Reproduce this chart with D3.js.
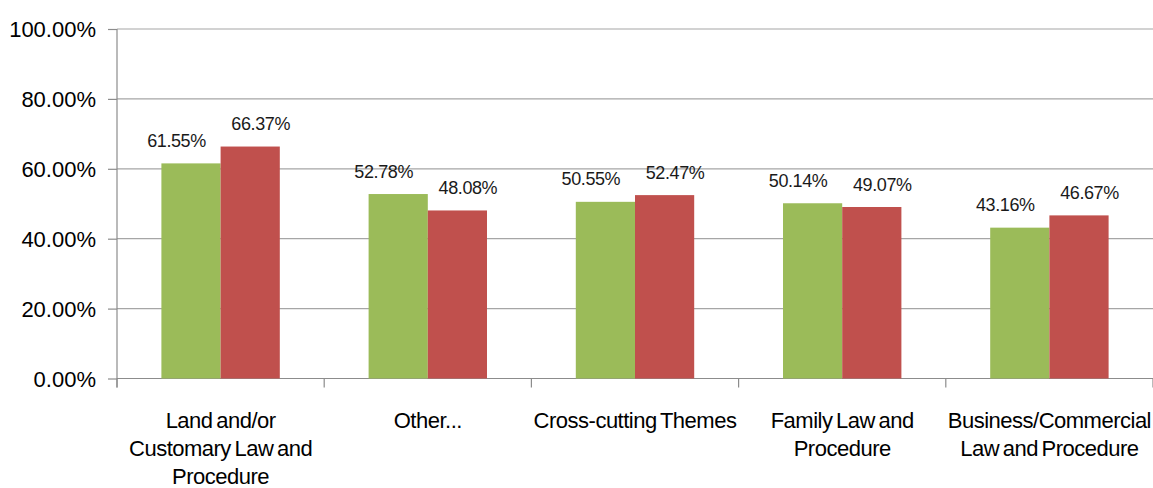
<!DOCTYPE html>
<html>
<head>
<meta charset="utf-8">
<script src="https://cdn.jsdelivr.net/npm/d3@7"></script>
<style>
  html, body { margin: 0; padding: 0; background: #fff; }
  svg { display: block; font-family: "Liberation Sans", Arial, sans-serif; }
</style>
</head>
<body>
<svg id="chart" width="1153" height="488"></svg>
<script>
// Category labels, one entry per line of the wrapped label
const categories = [
  ["Land and/or", "Customary Law and", "Procedure"],
  ["Other..."],
  ["Cross-cutting Themes"],
  ["Family Law and", "Procedure"],
  ["Business/Commercial", "Law and Procedure"]
];
// Two series of percentages per category
const seriesKeys = ["first", "second"];
const firstValues = [61.55, 52.78, 50.55, 50.14, 43.16];
const secondValues = [66.37, 48.08, 52.47, 49.07, 46.67];
const yTicks = [0, 20, 40, 60, 80, 100];

const colors = { first: "#9BBB59", second: "#C0504D" };

const svg = d3.select("#chart");
const plotLeft = 117, plotRight = 1153, plotTop = 29, plotBottom = 378.5;

const catIds = categories.map((c, i) => i);
const x0 = d3.scaleBand().domain(catIds).range([plotLeft, plotRight]).paddingInner(0).paddingOuter(0);
const x1 = d3.scaleBand().domain(seriesKeys).range([0, x0.bandwidth()]).paddingInner(0).paddingOuter(0.75);
const y = d3.scaleLinear().domain([0, 100]).range([plotBottom, plotTop]);

// Horizontal gridlines
svg.append("g")
  .selectAll("line")
  .data(yTicks.filter(t => t > 0))
  .join("line")
  .attr("x1", plotLeft).attr("x2", plotRight)
  .attr("y1", d => y(d)).attr("y2", d => y(d))
  .attr("stroke", "#a6a6a6").attr("stroke-width", 1.2);

// Y axis
const yAxis = svg.append("g")
  .attr("transform", `translate(${plotLeft},0)`)
  .call(d3.axisLeft(y).tickValues(yTicks).tickSize(9).tickPadding(12)
    .tickFormat(d => d.toFixed(2) + "%"));
yAxis.select(".domain").attr("stroke", "#8c8c8c").attr("stroke-width", 1.2)
  .attr("d", `M0,${plotTop}V${plotBottom + 9}`);
yAxis.selectAll(".tick line").attr("stroke", "#8c8c8c").attr("stroke-width", 1.2);
yAxis.selectAll(".tick text")
  .attr("font-size", 22).attr("fill", "#000")
  .attr("font-family", "'Liberation Sans', Arial, sans-serif")
  .attr("dy", "0.36em");

// X axis with ticks at category boundaries
const xAxis = svg.append("g");
xAxis.append("line")
  .attr("x1", plotLeft).attr("x2", plotRight)
  .attr("y1", plotBottom).attr("y2", plotBottom)
  .attr("stroke", "#8c8c8c").attr("stroke-width", 1.2);
xAxis.selectAll("line.tick")
  .data(catIds.concat([catIds.length]))
  .join("line")
  .attr("class", "tick")
  .attr("x1", d => d < catIds.length ? x0(d) : plotRight)
  .attr("x2", d => d < catIds.length ? x0(d) : plotRight)
  .attr("y1", plotBottom).attr("y2", plotBottom + 9)
  .attr("stroke", "#8c8c8c").attr("stroke-width", 1.2);

// Bars
const rows = catIds.map(i => ({ i, first: firstValues[i], second: secondValues[i] }));
const groups = svg.append("g").selectAll("g")
  .data(rows).join("g")
  .attr("transform", d => `translate(${x0(d.i)},0)`);

groups.selectAll("rect")
  .data(d => seriesKeys.map(k => ({ key: k, value: d[k] })))
  .join("rect")
  .attr("x", d => x1(d.key))
  .attr("width", x1.bandwidth())
  .attr("y", d => y(d.value))
  .attr("height", d => y(0) - y(d.value))
  .attr("fill", d => colors[d.key]);

// Value labels, nudged outward from the pair
const labelShift = { first: -14.5, second: 10.5 };
groups.selectAll("text")
  .data(d => seriesKeys.map(k => ({ key: k, value: d[k] })))
  .join("text")
  .attr("x", d => x1(d.key) + x1.bandwidth() / 2 + labelShift[d.key])
  .attr("y", d => y(d.value) - 16.5)
  .attr("text-anchor", "middle")
  .attr("font-size", 18)
  .attr("letter-spacing", "-0.4px")
  .attr("fill", "#1a1a1a")
  .text(d => d.value.toFixed(2) + "%");

// Category labels
const catText = svg.append("g").selectAll("text")
  .data(catIds).join("text")
  .attr("x", d => x0(d) + x0.bandwidth() / 2)
  .attr("y", 428)
  .attr("text-anchor", "middle")
  .attr("font-size", 22)
  .attr("letter-spacing", "-0.5px")
  .attr("word-spacing", "-2px")
  .attr("fill", "#000");
catText.selectAll("tspan")
  .data(d => categories[d].map((line, j) => ({ line, j, cx: x0(d) + x0.bandwidth() / 2 })))
  .join("tspan")
  .attr("x", d => d.cx)
  .attr("dy", d => d.j === 0 ? 0 : 28)
  .text(d => d.line);
</script>
</body>
</html>
